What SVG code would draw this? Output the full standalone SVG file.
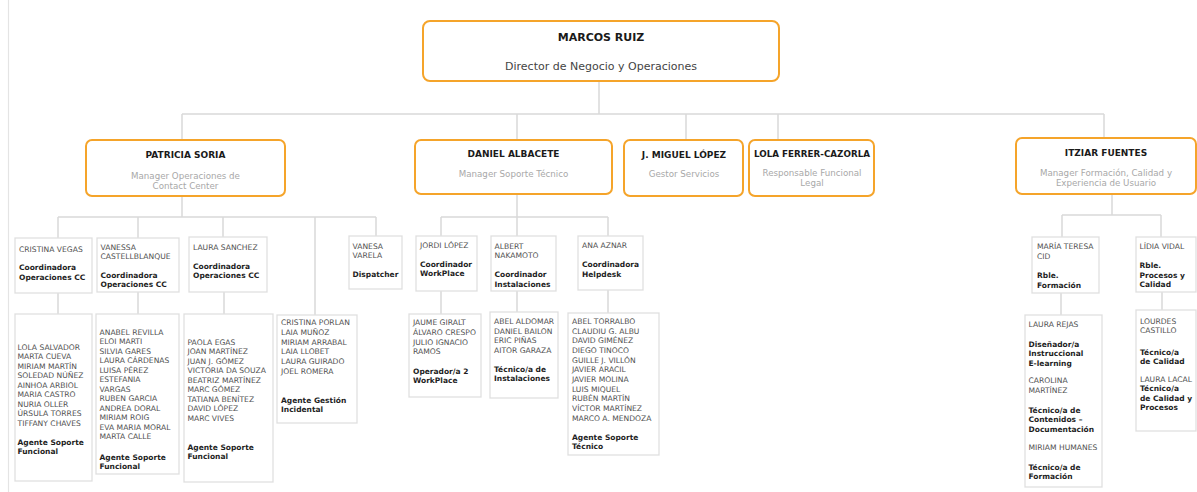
<svg xmlns="http://www.w3.org/2000/svg" width="1197" height="492" viewBox="0 0 1197 492">
<style>
.bg{fill:#ffffff}
.frame{stroke:#e4e4e4;stroke-width:1.2;fill:none}
.mgr{fill:#ffffff;stroke:#f5a42a;stroke-width:2}
.box{fill:#ffffff;stroke:#e0e0e0;stroke-width:1.3}
.con{stroke:#d9d9d9;stroke-width:1.5;fill:none}
text{font-family:"DejaVu Sans","Verdana","Liberation Sans",sans-serif}
.t1{font-size:11px;font-weight:bold;fill:#1a1a1a;text-anchor:middle}
.s1{font-size:11px;fill:#444444;text-anchor:middle}
.t2{font-size:9px;font-weight:bold;fill:#1a1a1a;text-anchor:middle}
.s2{font-size:8.7px;fill:#a8a8a8;text-anchor:middle}
.n{font-size:7.6px;fill:#505050}
.r{font-size:7.5px;font-weight:bold;fill:#1e1e1e}
</style>
<rect class="bg" x="0" y="0" width="1197" height="492"/>
<line class="frame" x1="8.5" y1="0" x2="8.5" y2="492"/>

<g id="connectors">
<path class="con" d="M599 81V114M182 114H1104M182 114V140M517 114V140M686 114V140M778 114V140M1104 114V138"/>
<path class="con" d="M182 196V217M58 217H376M58 217V238M138 217V238M223 217V237M315 217V315M376 217V236"/>
<path class="con" d="M58 293V314M138 292V314M224 292V314"/>
<path class="con" d="M517 194V217M441 217H608M441 217V236M517 217V236M608 217V236"/>
<path class="con" d="M441 291V314M517 291V312M608 290V313"/>
<path class="con" d="M1112 194V215M1062 215H1161M1062 215V237M1161 215V237"/>
<path class="con" d="M1061 293V315M1162 292V310"/>
</g>

<g id="marcos-ruiz">
<rect class="mgr" x="423" y="21" width="356" height="60" rx="7"/>
<text class="t1" x="601" y="41">MARCOS RUIZ</text>
<text class="s1" x="601" y="70">Director de Negocio y Operaciones</text>
</g>

<g id="patricia-soria">
<rect class="mgr" x="86" y="140" width="199" height="56" rx="6"/>
<text class="t2" x="185.5" y="158">PATRICIA SORIA</text>
<text class="s2" x="185.5" y="179">Manager Operaciones de</text>
<text class="s2" x="185.5" y="188.5">Contact Center</text>
</g>

<g id="daniel-albacete">
<rect class="mgr" x="415" y="140" width="197" height="54" rx="6"/>
<text class="t2" x="513.5" y="157">DANIEL ALBACETE</text>
<text class="s2" x="513.5" y="177">Manager Soporte Técnico</text>
</g>

<g id="miguel-lopez">
<rect class="mgr" x="624" y="140" width="119" height="56" rx="6"/>
<text class="t2" x="684" y="158">J. MIGUEL LÓPEZ</text>
<text class="s2" x="684" y="177">Gestor Servicios</text>
</g>

<g id="lola-ferrer">
<rect class="mgr" x="749" y="140" width="125" height="56" rx="6"/>
<text class="t2" x="812" y="157" textLength="116" lengthAdjust="spacingAndGlyphs">LOLA FERRER-CAZORLA</text>
<text class="s2" x="812" y="176">Responsable Funcional</text>
<text class="s2" x="812" y="186">Legal</text>
</g>

<g id="itziar-fuentes">
<rect class="mgr" x="1016" y="138" width="180" height="56" rx="6"/>
<text class="t2" x="1106" y="156">ITZIAR FUENTES</text>
<text class="s2" x="1106" y="176">Manager Formación, Calidad y</text>
<text class="s2" x="1106" y="185.5">Experiencia de Usuario</text>
</g>

<g id="cristina-vegas">
<rect class="box" x="15" y="238" width="77" height="55"/>
<text class="n" x="19" y="252">CRISTINA VEGAS</text>
<text class="r" x="19" y="270">Coordinadora</text>
<text class="r" x="19" y="280">Operaciones CC</text>
</g>

<g id="vanessa-castellblanque">
<rect class="box" x="97" y="238" width="82" height="54"/>
<text class="n" x="100.5" y="250">VANESSA</text>
<text class="n" x="100.5" y="259">CASTELLBLANQUE</text>
<text class="r" x="100.5" y="277.5">Coordinadora</text>
<text class="r" x="100.5" y="287">Operaciones CC</text>
</g>

<g id="laura-sanchez">
<rect class="box" x="189" y="237" width="78" height="55"/>
<text class="n" x="193" y="250">LAURA SANCHEZ</text>
<text class="r" x="193" y="269">Coordinadora</text>
<text class="r" x="193" y="278">Operaciones CC</text>
</g>

<g id="vanesa-varela">
<rect class="box" x="349" y="236" width="53" height="53"/>
<text class="n" x="352.5" y="249">VANESA</text>
<text class="n" x="352.5" y="258">VARELA</text>
<text class="r" x="352.5" y="276.5">Dispatcher</text>
</g>

<g id="jordi-lopez">
<rect class="box" x="416" y="236" width="61" height="55"/>
<text class="n" x="420" y="248">JORDI LÓPEZ</text>
<text class="r" x="420" y="266.5">Coordinador</text>
<text class="r" x="420" y="276">WorkPlace</text>
</g>

<g id="albert-nakamoto">
<rect class="box" x="491" y="236" width="65" height="55"/>
<text class="n" x="494.5" y="249">ALBERT</text>
<text class="n" x="494.5" y="258">NAKAMOTO</text>
<text class="r" x="494.5" y="277">Coordinador</text>
<text class="r" x="494.5" y="286.5">Instalaciones</text>
</g>

<g id="ana-aznar">
<rect class="box" x="578" y="236" width="65" height="54"/>
<text class="n" x="582" y="247.5">ANA AZNAR</text>
<text class="r" x="582" y="267">Coordinadora</text>
<text class="r" x="582" y="276.5">Helpdesk</text>
</g>

<g id="maria-teresa-cid">
<rect class="box" x="1032" y="237" width="67" height="56"/>
<text class="n" x="1037" y="249">MARÍA TERESA</text>
<text class="n" x="1037" y="259">CID</text>
<text class="r" x="1037" y="278">Rble.</text>
<text class="r" x="1037" y="287.5">Formación</text>
</g>

<g id="lidia-vidal">
<rect class="box" x="1136" y="237" width="60" height="55"/>
<text class="n" x="1139.5" y="249">LÍDIA VIDAL</text>
<text class="r" x="1139.5" y="268">Rble.</text>
<text class="r" x="1139.5" y="277.5">Procesos y</text>
<text class="r" x="1139.5" y="286.5">Calidad</text>
</g>

<g id="team-cristina-vegas">
<rect class="box" x="15" y="314" width="77" height="167"/>
<text class="n" x="17.5" y="349.7">LOLA SALVADOR</text>
<text class="n" x="17.5" y="359.2">MARTA CUEVA</text>
<text class="n" x="17.5" y="368.7">MIRIAM MARTÍN</text>
<text class="n" x="17.5" y="378.2">SOLEDAD NÚÑEZ</text>
<text class="n" x="17.5" y="387.7">AINHOA ARBIOL</text>
<text class="n" x="17.5" y="397.2">MARIA CASTRO</text>
<text class="n" x="17.5" y="406.7">NURIA OLLER</text>
<text class="n" x="17.5" y="416.2">ÚRSULA TORRES</text>
<text class="n" x="17.5" y="425.7">TIFFANY CHAVES</text>
<text class="r" x="17.5" y="444.7">Agente Soporte</text>
<text class="r" x="17.5" y="453.7">Funcional</text>
</g>

<g id="team-vanessa">
<rect class="box" x="96" y="314" width="83" height="160"/>
<text class="n" x="99.5" y="334.7">ANABEL REVILLA</text>
<text class="n" x="99.5" y="344.2">ELOI MARTI</text>
<text class="n" x="99.5" y="353.7">SILVIA GARES</text>
<text class="n" x="99.5" y="363.2">LAURA CÁRDENAS</text>
<text class="n" x="99.5" y="372.7">LUISA PÉREZ</text>
<text class="n" x="99.5" y="382.2">ESTEFANIA</text>
<text class="n" x="99.5" y="391.7">VARGAS</text>
<text class="n" x="99.5" y="401.2">RUBEN GARCIA</text>
<text class="n" x="99.5" y="410.7">ANDREA DORAL</text>
<text class="n" x="99.5" y="420.2">MIRIAM ROIG</text>
<text class="n" x="99.5" y="429.7">EVA MARIA MORAL</text>
<text class="n" x="99.5" y="439.2">MARTA CALLE</text>
<text class="r" x="99.5" y="459.7">Agente Soporte</text>
<text class="r" x="99.5" y="469">Funcional</text>
</g>

<g id="team-laura-sanchez">
<rect class="box" x="184" y="314" width="89" height="168"/>
<text class="n" x="187.5" y="344.7">PAOLA EGAS</text>
<text class="n" x="187.5" y="354.2">JOAN MARTÍNEZ</text>
<text class="n" x="187.5" y="363.7">JUAN J. GÓMEZ</text>
<text class="n" x="187.5" y="373.2">VICTORIA DA SOUZA</text>
<text class="n" x="187.5" y="382.7">BEATRIZ MARTÍNEZ</text>
<text class="n" x="187.5" y="392.2">MARC GÓMEZ</text>
<text class="n" x="187.5" y="401.7">TATIANA BENÍTEZ</text>
<text class="n" x="187.5" y="411.2">DAVID LÓPEZ</text>
<text class="n" x="187.5" y="420.7">MARC VIVES</text>
<text class="r" x="187.5" y="449.7">Agente Soporte</text>
<text class="r" x="187.5" y="458.7">Funcional</text>
</g>

<g id="team-incidental">
<rect class="box" x="277" y="315" width="80" height="108"/>
<text class="n" x="281" y="325.3">CRISTINA PORLAN</text>
<text class="n" x="281" y="335">LAIA MUÑOZ</text>
<text class="n" x="281" y="344.7">MIRIAM ARRABAL</text>
<text class="n" x="281" y="354.4">LAIA LLOBET</text>
<text class="n" x="281" y="364.1">LAURA GUIRADO</text>
<text class="n" x="281" y="373.8">JOEL ROMERA</text>
<text class="r" x="281" y="403">Agente Gestión</text>
<text class="r" x="281" y="412.3">Incidental</text>
</g>

<g id="team-jordi-lopez">
<rect class="box" x="409" y="314" width="72" height="83"/>
<text class="n" x="413" y="325.3">JAUME GIRALT</text>
<text class="n" x="413" y="334.7">ÁLVARO CRESPO</text>
<text class="n" x="413" y="344.7">JULIO IGNACIO</text>
<text class="n" x="413" y="354">RAMOS</text>
<text class="r" x="413" y="373.7">Operador/a 2</text>
<text class="r" x="413" y="382.7">WorkPlace</text>
</g>

<g id="team-albert-nakamoto">
<rect class="box" x="490" y="312" width="68" height="86"/>
<text class="n" x="494" y="324">ABEL ALDOMAR</text>
<text class="n" x="494" y="333.7">DANIEL BAILON</text>
<text class="n" x="494" y="343.3">ERIC PIÑAS</text>
<text class="n" x="494" y="352.7">AITOR GARAZA</text>
<text class="r" x="494" y="372">Técnico/a de</text>
<text class="r" x="494" y="381.3">Instalaciones</text>
</g>

<g id="team-ana-aznar">
<rect class="box" x="568" y="313" width="91" height="142"/>
<text class="n" x="572" y="324">ABEL TORRALBO</text>
<text class="n" x="572" y="333.7">CLAUDIU G. ALBU</text>
<text class="n" x="572" y="343.3">DAVID GIMÉNEZ</text>
<text class="n" x="572" y="353">DIEGO TINOCO</text>
<text class="n" x="572" y="362.7">GUILLE J. VILLÓN</text>
<text class="n" x="572" y="372.3">JAVIER ARACIL</text>
<text class="n" x="572" y="382">JAVIER MOLINA</text>
<text class="n" x="572" y="391.7">LUIS MIQUEL</text>
<text class="n" x="572" y="401.3">RUBÉN MARTÍN</text>
<text class="n" x="572" y="411">VÍCTOR MARTÍNEZ</text>
<text class="n" x="572" y="420.7">MARCO A. MENDOZA</text>
<text class="r" x="572" y="440">Agente Soporte</text>
<text class="r" x="572" y="449.3">Técnico</text>
</g>

<g id="team-maria-teresa-cid">
<rect class="box" x="1025" y="315" width="77" height="172"/>
<text class="n" x="1028.5" y="327.3">LAURA REJAS</text>
<text class="r" x="1028.5" y="347.3">Diseñador/a</text>
<text class="r" x="1028.5" y="356.3">Instruccional</text>
<text class="r" x="1028.5" y="365.7">E-learning</text>
<text class="n" x="1028.5" y="383.3">CAROLINA</text>
<text class="n" x="1028.5" y="393">MARTÍNEZ</text>
<text class="r" x="1028.5" y="413">Técnico/a de</text>
<text class="r" x="1028.5" y="422">Contenidos –</text>
<text class="r" x="1028.5" y="431.7">Documentación</text>
<text class="n" x="1028.5" y="450.3">MIRIAM HUMANES</text>
<text class="r" x="1028.5" y="469.7">Técnico/a de</text>
<text class="r" x="1028.5" y="479">Formación</text>
</g>

<g id="team-lidia-vidal">
<rect class="box" x="1136" y="310" width="60" height="121"/>
<text class="n" x="1140" y="323.7">LOURDES</text>
<text class="n" x="1140" y="333">CASTILLO</text>
<text class="r" x="1140" y="354.7">Técnico/a</text>
<text class="r" x="1140" y="363.7">de Calidad</text>
<text class="n" x="1140" y="382.3">LAURA LACAL</text>
<text class="r" x="1140" y="391.3">Técnico/a</text>
<text class="r" x="1140" y="400.7">de Calidad y</text>
<text class="r" x="1140" y="409.7">Procesos</text>
</g>
</svg>
